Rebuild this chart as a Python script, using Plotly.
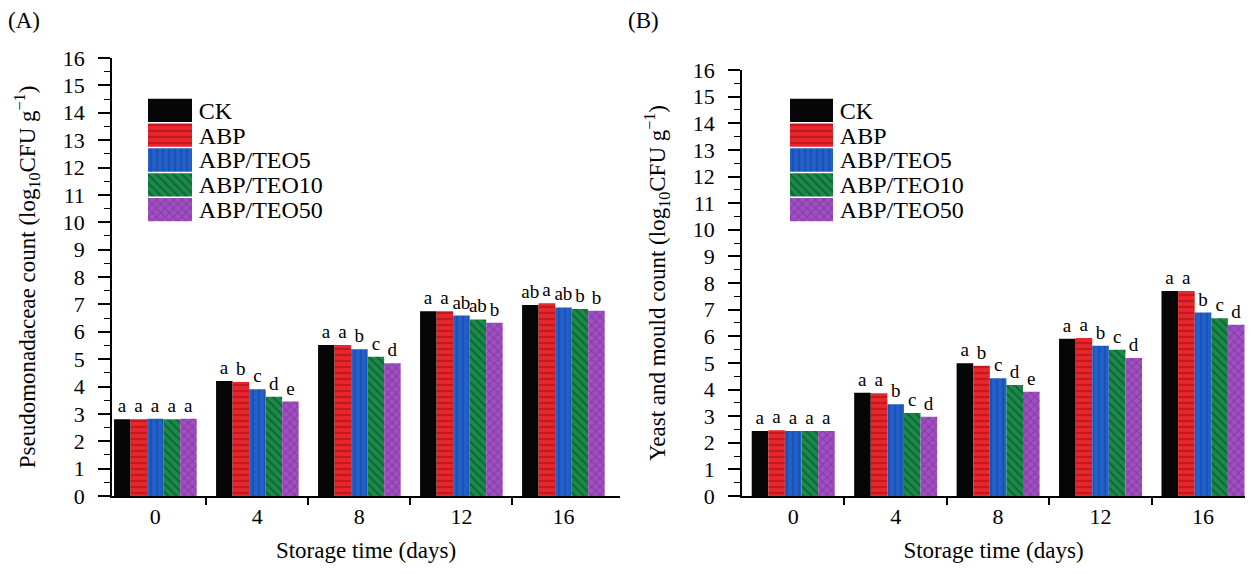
import plotly.graph_objects as go

W, H = 1252, 574

days = ["0", "4", "8", "12", "16"]
series = ["CK", "ABP", "ABP/TEO5", "ABP/TEO10", "ABP/TEO50"]

# Panel A: Pseudomonadaceae count
a_CK = [2.80, 4.20, 5.52, 6.75, 6.98]
a_ABP = [2.80, 4.16, 5.52, 6.75, 7.04]
a_TEO5 = [2.82, 3.90, 5.36, 6.59, 6.89]
a_TEO10 = [2.80, 3.63, 5.09, 6.45, 6.83]
a_TEO50 = [2.82, 3.45, 4.85, 6.33, 6.77]

a_let_CK = ["a", "a", "a", "a", "ab"]
a_let_ABP = ["a", "b", "a", "a", "a"]
a_let_TEO5 = ["a", "c", "b", "ab", "ab"]
a_let_TEO10 = ["a", "d", "c", "ab", "b"]
a_let_TEO50 = ["a", "e", "d", "b", "b"]

# Panel B: Yeast and mould count
b_CK = [2.44, 3.88, 4.99, 5.91, 7.70]
b_ABP = [2.47, 3.86, 4.89, 5.93, 7.70]
b_TEO5 = [2.44, 3.45, 4.42, 5.64, 6.89]
b_TEO10 = [2.44, 3.12, 4.17, 5.49, 6.68]
b_TEO50 = [2.44, 2.98, 3.92, 5.18, 6.43]

b_let_CK = ["a", "a", "a", "a", "a"]
b_let_ABP = ["a", "a", "b", "a", "a"]
b_let_TEO5 = ["a", "b", "c", "b", "b"]
b_let_TEO10 = ["a", "c", "d", "c", "c"]
b_let_TEO50 = ["a", "d", "e", "d", "d"]

bg = ["#060606", "#e8262c", "#2160c8", "#1a8a4a", "#a050c0"]
fg = ["#060606", "#9c1014", "#133f99", "#0a4d24", "#6e2890"]
shapes = ["", "-", "|", "\\", "x"]
opac = [0, 0.55, 0.45, 0.6, 0.5]

FONT = "Liberation Serif"

fig = go.Figure()

xpos = [0, 1, 2, 3, 4]


def pattern(i):
    return dict(shape=shapes[i], fgcolor=fg[i], fgopacity=opac[i],
                size=6, solidity=0.35, fillmode="overlay")


def add_panel(vals, lets, xa, ya):
    for i, (v, l) in enumerate(zip(vals, lets)):
        fig.add_trace(go.Bar(
            x=xpos, y=v, name=series[i], text=l,
            textposition="outside", constraintext="none", cliponaxis=False,
            textfont=dict(family=FONT, size=19, color="black"),
            marker=dict(color=bg[i], line=dict(width=0), pattern=pattern(i)),
            xaxis=xa, yaxis=ya, showlegend=False,
        ))


add_panel([a_CK, a_ABP, a_TEO5, a_TEO10, a_TEO50],
          [a_let_CK, a_let_ABP, a_let_TEO5, a_let_TEO10, a_let_TEO50], "x", "y")
add_panel([b_CK, b_ABP, b_TEO5, b_TEO10, b_TEO50],
          [b_let_CK, b_let_ABP, b_let_TEO5, b_let_TEO10, b_let_TEO50], "x2", "y2")

# custom legend swatches (one bar per series on a small inset axis per panel)
for xa, ya in (("x3", "y3"), ("x4", "y4")):
    for i in range(5):
        fig.add_trace(go.Bar(
            y=[series[i]], x=[1], orientation="h", width=0.94,
            marker=dict(color=bg[i], line=dict(width=0), pattern=pattern(i)),
            xaxis=xa, yaxis=ya, showlegend=False, hoverinfo="skip",
        ))


def px_x(p):
    return p / W


def px_y(p):
    return 1 - p / H


tickfont = dict(family=FONT, size=22, color="black")
titlefont = dict(family=FONT, size=23, color="black")

common_x = dict(
    tickmode="array", tickvals=xpos, ticktext=days, ticks="",
    showline=True, linecolor="black", linewidth=1.5, automargin=False,
    tickfont=tickfont, showgrid=False, zeroline=False,
    minor=dict(tickmode="array", tickvals=[0.5, 1.5, 2.5, 3.5], ticks="outside",
               ticklen=7, tickcolor="black", tickwidth=1.5),
    title=dict(text="Storage time (days)", font=titlefont, standoff=14),
)
common_y = dict(
    range=[0, 16], tickmode="linear", tick0=0, dtick=1, ticks="outside",
    ticklen=12, tickwidth=1.5, tickcolor="black", automargin=False,
    ticklabelstandoff=9,
    showline=True, linecolor="black", linewidth=1.5,
    tickfont=tickfont, showgrid=False, zeroline=False,
    minor=dict(dtick=0.5, ticks="outside", ticklen=6, tickcolor="black", tickwidth=1.2),
)
legend_y = dict(
    side="right", tickmode="array", tickvals=series,
    categoryorder="array", categoryarray=series[::-1], automargin=False,
    showline=False, ticks="outside", ticklen=1, tickcolor="rgba(0,0,0,0)",
    tickfont=dict(family=FONT, size=24, color="black"), showgrid=False, zeroline=False,
)

fig.update_layout(
    width=W, height=H, margin=dict(l=0, r=0, t=0, b=0, autoexpand=False),
    paper_bgcolor="white", plot_bgcolor="white",
    barmode="group", bargap=0.19, bargroupgap=0,
    xaxis=dict(domain=[px_x(112), px_x(620)], range=[-0.425, 4.555], anchor="y", **common_x),
    yaxis=dict(domain=[px_y(496), px_y(58)], anchor="x",
               title=dict(text="Pseudomonadaceae count (log<sub>10</sub>CFU g<sup>\u22121</sup>)",
                          font=titlefont, standoff=21),
               **common_y),
    xaxis2=dict(domain=[px_x(742), px_x(1245)], range=[-0.5, 4.41], anchor="y2", **common_x),
    yaxis2=dict(domain=[px_y(496), px_y(70)], anchor="x2",
                title=dict(text="Yeast and mould count (log<sub>10</sub>CFU g<sup>\u22121</sup>)",
                           font=titlefont, standoff=21),
                **common_y),
    xaxis3=dict(domain=[px_x(148), px_x(192)], range=[0, 1], visible=False, anchor="y3"),
    yaxis3=dict(domain=[px_y(222), px_y(98)], anchor="x3", **legend_y),
    xaxis4=dict(domain=[px_x(790), px_x(833)], range=[0, 1], visible=False, anchor="y4"),
    yaxis4=dict(domain=[px_y(222), px_y(98)], anchor="x4", **legend_y),
    annotations=[
        dict(text="(A)", x=px_x(6), y=px_y(20), xref="paper", yref="paper",
             xanchor="left", yanchor="middle", showarrow=False, font=titlefont),
        dict(text="(B)", x=px_x(626), y=px_y(20), xref="paper", yref="paper",
             xanchor="left", yanchor="middle", showarrow=False, font=titlefont),
    ],
)

fig.write_html("out.html", config={"displayModeBar": False},
               post_script="document.body.style.margin='0px';")
